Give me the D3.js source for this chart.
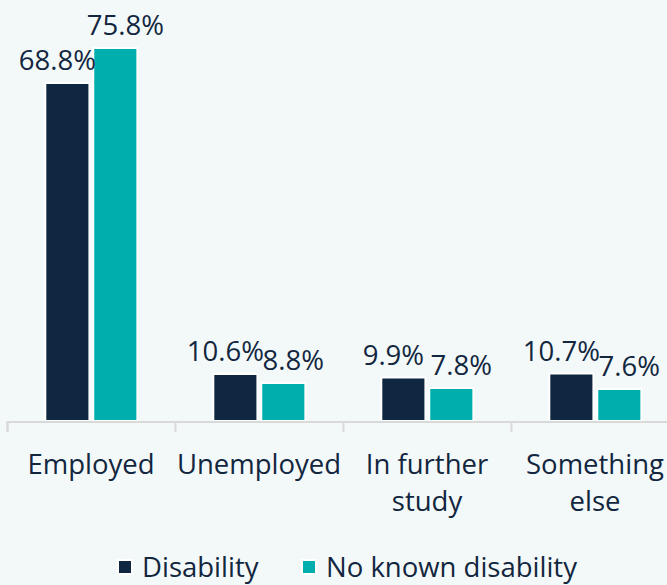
<!DOCTYPE html>
<html>
<head>
<meta charset="utf-8">
<script src="https://cdn.jsdelivr.net/npm/d3@7"></script>
<style>
  body { margin: 0; background: #f3f9f8; }
  svg { display: block; }
</style>
</head>
<body>
<div id="chart"></div>
<script>
const categories = ["Employed", "Unemployed", "In further study", "Something else"];
const seriesNames = ["Disability", "No known disability"];
const disability = [68.8, 10.6, 9.9, 10.7];
const noDisability = [75.8, 8.8, 7.8, 7.6];

const width = 667, height = 585;
const colors = ["#0f2740", "#00afad"];
const textColor = "#12263f";
const font = "'Open Sans', sans-serif";
const fs = 27.5;

const svg = d3.select("#chart")
    .append("svg")
    .attr("width", width)
    .attr("height", height)
    .style("background", "#f3f9f8")
    .attr("font-family", font);

// band per category, last band runs off the right edge like the original
const x0 = d3.scaleBand()
    .domain(categories)
    .range([7, 679]);

const bw = x0.bandwidth();
const x1 = d3.scaleBand()
    .domain(seriesNames)
    .range([bw * 0.228, bw * 0.776])
    .paddingInner(0.08);

const y = d3.scaleLinear()
    .domain([0, 80])
    .range([427, 27]);

const baseline = 421;

const rows = categories.map((c, i) => ({
    cat: c,
    vals: [disability[i], noDisability[i]]
}));

const group = svg.selectAll("g.cat")
    .data(rows)
    .join("g")
    .attr("class", "cat")
    .attr("transform", d => `translate(${x0(d.cat)},0)`);

group.selectAll("rect")
    .data(d => d.vals.map((v, j) => ({ v, j })))
    .join("rect")
    .attr("x", d => x1(seriesNames[d.j]))
    .attr("y", d => y(d.v))
    .attr("width", x1.bandwidth())
    .attr("height", d => baseline - y(d.v))
    .attr("fill", d => colors[d.j])
    .attr("stroke", "#ffffff")
    .attr("stroke-width", 2);

// value labels (nudged apart like the original)
group.selectAll("text.val")
    .data(d => d.vals.map((v, j) => ({ v, j })))
    .join("text")
    .attr("class", "val")
    .attr("x", d => x1(seriesNames[d.j]) + x1.bandwidth() / 2 + (d.j === 0 ? -10 : 10))
    .attr("y", d => y(d.v) - 13)
    .attr("text-anchor", "middle")
    .attr("font-size", fs)
    .attr("fill", textColor)
    .text(d => d.v.toFixed(1) + "%");

// axis
const axis = svg.append("g")
    .attr("transform", `translate(0,${baseline + 1})`)
    .call(d3.axisBottom(x0).tickSize(0).tickFormat(""));
axis.select(".domain")
    .attr("stroke", "#d9d9d9")
    .attr("stroke-width", 2)
    .attr("d", `M7.5,10V0H${width}`);

svg.append("g")
    .selectAll("line")
    .data(categories)
    .join("line")
    .attr("x1", d => x0(d) + 0.5)
    .attr("x2", d => x0(d) + 0.5)
    .attr("y1", baseline + 1)
    .attr("y2", baseline + 11)
    .attr("stroke", "#d9d9d9")
    .attr("stroke-width", 2);

// category labels, wrapped to the band width
const catLabels = svg.append("g")
    .selectAll("text")
    .data(categories)
    .join("text")
    .attr("x", d => x0(d) + bw / 2)
    .attr("y", 474)
    .attr("text-anchor", "middle")
    .attr("font-size", fs)
    .attr("fill", textColor);

catLabels.each(function (d) {
    const t = d3.select(this);
    const words = d.split(" ");
    let line = [];
    let lines = [];
    const probe = t.append("tspan");
    words.forEach(w => {
        const test = line.concat(w).join(" ");
        probe.text(test);
        if (probe.node().getComputedTextLength() > bw + 4 && line.length) {
            lines.push(line.join(" "));
            line = [w];
        } else {
            line.push(w);
        }
    });
    lines.push(line.join(" "));
    probe.remove();
    lines.forEach((l, i) => {
        t.append("tspan")
            .attr("x", x0(d) + bw / 2)
            .attr("dy", i === 0 ? 0 : 37)
            .text(l);
    });
});

// legend
const legend = svg.append("g")
    .attr("transform", "translate(0,577)");

const legendX = [118, 302];
seriesNames.forEach((s, i) => {
    const g = legend.append("g").attr("transform", `translate(${legendX[i]},0)`);
    g.append("rect")
        .attr("x", 0)
        .attr("y", -17)
        .attr("width", 14)
        .attr("height", 14)
        .attr("fill", colors[i])
        .attr("stroke", "#ffffff")
        .attr("stroke-width", 2);
    g.append("text")
        .attr("x", 24)
        .attr("y", 0)
        .attr("font-size", fs)
        .attr("fill", textColor)
        .text(s);
});
</script>
</body>
</html>
